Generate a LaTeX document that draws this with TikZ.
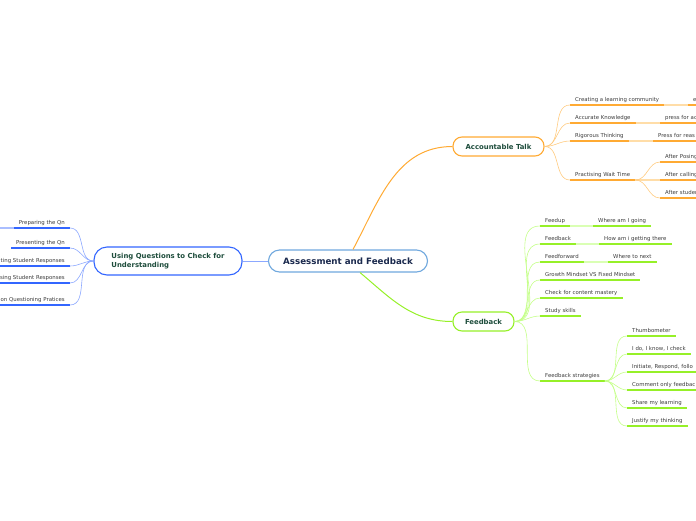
\documentclass[tikz,border=0pt]{standalone}
\usepackage{fontspec}
\setmainfont{DejaVu Sans}
\definecolor{cborder}{HTML}{70A8DE}
\definecolor{ctext}{HTML}{1B2A4E}
\definecolor{ttext}{HTML}{1E4D3C}
\definecolor{ltext}{HTML}{3C3C3C}
\definecolor{qline}{HTML}{3366FF}
\definecolor{qcurve}{HTML}{8CA8FF}
\definecolor{qpale}{HTML}{AABEFF}
\definecolor{orline}{HTML}{FFAA33}
\definecolor{orcurve}{HTML}{FFCB80}
\definecolor{orpale}{HTML}{FFDDA8}
\definecolor{grline}{HTML}{96F028}
\definecolor{grcurve}{HTML}{C4FF88}
\definecolor{grpale}{HTML}{DAFFB4}
\tikzset{
  topic/.style={draw=#1, line width=1.1pt, rounded corners=9pt, fill=white, text=ttext,
    font=\fontsize{6.9}{9}\selectfont\bfseries, minimum height=19pt, inner xsep=0pt},
  leaf/.style={anchor=south west, inner xsep=5pt, inner ysep=2.5pt, text=ltext,
    text height=4pt, text depth=1.1pt, font=\fontsize{5.4}{6}\selectfont,
    append after command={(\tikzlastnode.south west) edge[line width=1.6pt, draw=#1] (\tikzlastnode.south east)}},
  leafl/.style={leaf=#1, anchor=south east},
  cut/.style={text width=100pt, align=left},
  cutl/.style={text width=100pt, align=right},
  branch/.style={draw=#1, line width=0.6pt},
  link/.style={draw=#1, line width=1.6pt}
}
\begin{document}
\begin{tikzpicture}[x=1pt, y=-1pt]
\useasboundingbox (0,0) rectangle (696,520);
\clip (0,0) rectangle (696,520);

\node[topic=cborder, text=ctext, font=\fontsize{8.7}{10}\selectfont\bfseries, minimum width=159pt, minimum height=22pt, rounded corners=11pt] (af) at (348,261) {Assessment and Feedback};
\node[topic=qline, minimum width=148pt, minimum height=28pt, rounded corners=13pt, align=left] (uq) at (168,261) {Using Questions to Check for\\Understanding};
\node[topic=orline, minimum width=91pt] (at) at (498.5,146.5) {Accountable Talk};
\node[topic=grline, minimum width=61pt] (fb) at (483.5,321.5) {Feedback};

\draw[line width=1pt, qcurve] (af.west) -- (uq.east);
\draw[line width=1pt, orline] ([xshift=5pt]af.north) to[out=62,in=180] (at.west);
\draw[line width=1pt, grline] ([xshift=12pt]af.south) to[out=-40,in=180] (fb.west);

\node[leafl=qline] (pq) at (70,228) {Preparing the Qn};
\node[leafl=qline] (prq) at (70,248) {Presenting the Qn};
\node[leafl=qline, cutl] (sr1) at (70,266) {ting Student Responses};
\node[leafl=qline, cutl] (sr2) at (70,283) {sing Student Responses};
\node[leafl=qline, cutl] (qp) at (70,305) {on Questioning Pratices};
\coordinate (pqx) at (-20,228);
\draw[link=qpale] (pq.south west) -- (pqx);
\foreach \n in {pq,prq,sr1,sr2,qp}
  \draw[branch=qcurve] (uq.west) to[out=180,in=0] (\n.south east);

\node[leaf=orline] (clc) at (570,105) {Creating a learning community};
\node[leaf=orline] (ak) at (570,123) {Accurate Knowledge};
\node[leaf=orline] (rt) at (570,141) {Rigorous Thinking};
\node[leaf=orline] (pwt) at (570,180) {Practising Wait Time};
\node[leaf=orline, cut] (clc1) at (688,105) {e};
\node[leaf=orline, cut] (ak1) at (660,123) {press for ac};
\node[leaf=orline, cut] (rt1) at (653,141) {Press for reas};
\node[leaf=orline, cut] (pwt1) at (660,162) {After Posing};
\node[leaf=orline, cut] (pwt2) at (660,180) {After calling};
\node[leaf=orline, cut] (pwt3) at (660,198) {After studen};
\foreach \n in {clc,ak,rt,pwt}
  \draw[branch=orcurve] (at.east) to[out=0,in=180] (\n.south west);
\draw[link=orpale] (clc.south east) -- (clc1.south west);
\draw[link=orpale] (ak.south east) -- (ak1.south west);
\draw[link=orpale] (rt.south east) -- (rt1.south west);
\draw[link=orpale] (pwt.south east) -- (pwt2.south west);
\foreach \n in {pwt1,pwt3}
  \draw[branch=orcurve] (pwt.south east) to[out=0,in=180] (\n.south west);

\node[leaf=grline] (fu) at (540,226) {Feedup};
\node[leaf=grline] (fbk) at (540,244) {Feedback};
\node[leaf=grline] (ff) at (540,262) {Feedforward};
\node[leaf=grline] (gm) at (540,280) {Growth Mindset VS Fixed Mindset};
\node[leaf=grline] (cc) at (540,298) {Check for content mastery};
\node[leaf=grline] (ss) at (540,316) {Study skills};
\node[leaf=grline] (fs) at (540,381) {Feedback strategies};
\node[leaf=grline] (fu1) at (593,226) {Where am I going};
\node[leaf=grline] (fbk1) at (599,244) {How am i getting there};
\node[leaf=grline] (ff1) at (608,262) {Where to next};
\node[leaf=grline] (fs1) at (627,336) {Thumbometer};
\node[leaf=grline] (fs2) at (627,354) {I do, I know, I check};
\node[leaf=grline, cut] (fs3) at (627,372) {Initiate, Respond, follo};
\node[leaf=grline, cut] (fs4) at (627,390) {Comment only feedbac};
\node[leaf=grline] (fs5) at (627,408) {Share my learning};
\node[leaf=grline] (fs6) at (627,426) {Justify my thinking};
\foreach \n in {fu,fbk,ff,gm,cc,ss,fs}
  \draw[branch=grcurve] (fb.east) to[out=0,in=180] (\n.south west);
\draw[link=grpale] (fu.south east) -- (fu1.south west);
\draw[link=grpale] (fbk.south east) -- (fbk1.south west);
\draw[link=grpale] (ff.south east) -- (ff1.south west);
\foreach \n in {fs1,fs2,fs3,fs4,fs5,fs6}
  \draw[branch=grcurve] (fs.south east) to[out=0,in=180] (\n.south west);
\end{tikzpicture}
\end{document}
